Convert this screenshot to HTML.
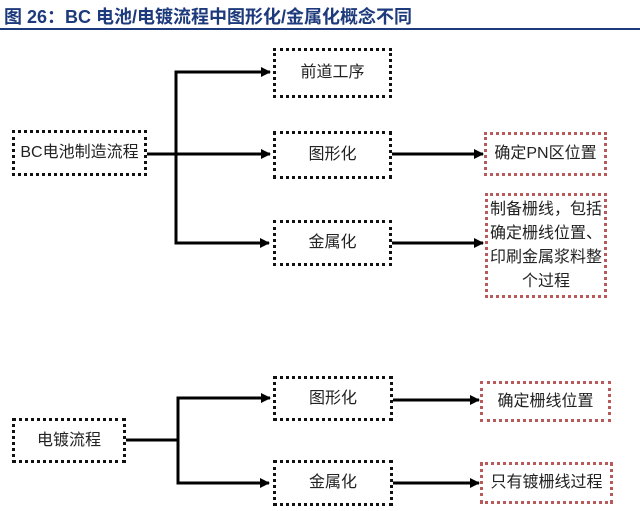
<!DOCTYPE html>
<html><head><meta charset="utf-8"><style>
body{margin:0;width:640px;height:511px;background:#fff;position:relative;overflow:hidden;font-family:"Liberation Sans","Noto Sans CJK SC",sans-serif;}
.t{position:absolute;left:4px;top:3px;font-size:18px;font-weight:bold;color:#1d3a7c;white-space:nowrap;letter-spacing:0px}
.hr{position:absolute;left:0;top:28px;width:640px;height:2px;background:#1d3a7c}
.b{position:absolute;box-sizing:border-box;border:3px dotted #111;display:flex;align-items:center;justify-content:center;font-size:16px;color:#222;text-align:center;line-height:24px}
.r{border-color:#b85a5a;}
svg{position:absolute;left:0;top:0}
</style></head><body>
<div class="t">图 26：BC 电池/电镀流程中图形化/金属化概念不同</div>
<div class="hr"></div>
<svg width="640" height="511">
<defs><marker id="a" markerWidth="10" markerHeight="10" refX="9" refY="5" orient="auto" markerUnits="userSpaceOnUse"><path d="M0,0 L10,5 L0,10 z" fill="#000"/></marker></defs>
<g stroke="#000" stroke-width="3" fill="none">
<polyline points="269,72 176,72 176,243 269,243" marker-end="url(#a)"/>
<line x1="269" y1="72" x2="270" y2="72" marker-end="url(#a)"/>
<line x1="147" y1="154" x2="270" y2="154" marker-end="url(#a)"/>
<line x1="392" y1="154" x2="483" y2="154" marker-end="url(#a)"/>
<line x1="392" y1="243" x2="483" y2="243" marker-end="url(#a)"/>
<polyline points="269,398 178,398 178,483 269,483" marker-end="url(#a)"/>
<line x1="269" y1="398" x2="270" y2="398" marker-end="url(#a)"/>
<line x1="126" y1="440" x2="178" y2="440"/>
<line x1="393" y1="400" x2="479" y2="400" marker-end="url(#a)"/>
<line x1="393" y1="483" x2="479" y2="483" marker-end="url(#a)"/>
</g></svg>
<div class="b" style="left:273px;top:48px;width:119px;height:50px">前道工序</div>
<div class="b" style="left:12px;top:130px;width:135px;height:46px">BC电池制造流程</div>
<div class="b" style="left:273px;top:131px;width:119px;height:48px">图形化</div>
<div class="b" style="left:273px;top:220px;width:119px;height:46px">金属化</div>
<div class="b r" style="left:484px;top:132px;width:123px;height:44px">确定PN区位置</div>
<div class="b r" style="left:485px;top:193px;width:122px;height:105px;line-height:24px">制备栅线，包括<br>确定栅线位置、<br>印刷金属浆料整<br>个过程</div>
<div class="b" style="left:12px;top:418px;width:114px;height:45px">电镀流程</div>
<div class="b" style="left:273px;top:376px;width:120px;height:45px">图形化</div>
<div class="b" style="left:273px;top:460px;width:120px;height:46px">金属化</div>
<div class="b r" style="left:480px;top:381px;width:131px;height:41px">确定栅线位置</div>
<div class="b r" style="left:480px;top:462px;width:133px;height:42px">只有镀栅线过程</div>
</body></html>
